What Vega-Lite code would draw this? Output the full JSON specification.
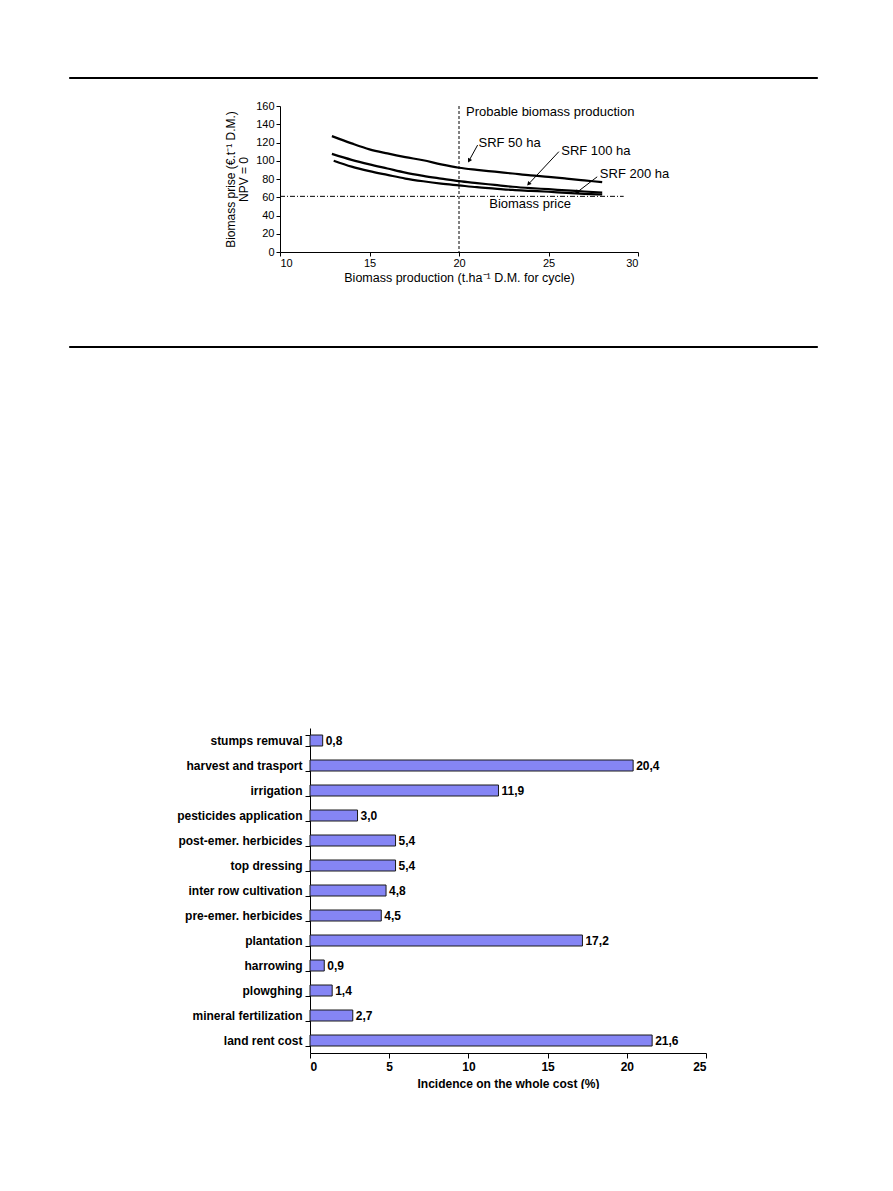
{
  "$schema": "https://vega.github.io/schema/vega-lite/v6.json",
  "background": "white",
  "padding": {"left": 68, "top": 76, "right": 0, "bottom": 0},
  "autosize": {"type": "pad"},
  "config": {
    "view": {"stroke": null},
    "font": "Liberation Sans",
    "locale": {"number": {"decimal": ",", "thousands": ".", "grouping": [3], "currency": ["", "€"]}},
    "axis": {"grid": false, "domainColor": "black", "tickColor": "black", "labelColor": "black", "titleColor": "black", "labelOverlap": false}
  },
  "spacing": 0,
  "vconcat": [
    {"width": 748, "height": 1, "data": {"values": []}, "mark": "text", "encoding": {}, "view": {"fill": "black", "stroke": "black", "strokeWidth": 1}},
    {"width": 1, "height": 21, "data": {"values": []}, "mark": "text", "encoding": {}},
    {
      "spacing": 0,
      "hconcat": [
        {"width": 155, "height": 1, "data": {"values": []}, "mark": "text", "encoding": {}},
        {
          "width": 358,
          "height": 146,
          "layer": [
            {
              "data": {"values": [
                {"series": "SRF 50 ha", "production": 12.9, "price": 127},
                {"series": "SRF 50 ha", "production": 14, "price": 119},
                {"series": "SRF 50 ha", "production": 15, "price": 112.5},
                {"series": "SRF 50 ha", "production": 16, "price": 108},
                {"series": "SRF 50 ha", "production": 17, "price": 104},
                {"series": "SRF 50 ha", "production": 18, "price": 100.5},
                {"series": "SRF 50 ha", "production": 19, "price": 96},
                {"series": "SRF 50 ha", "production": 20, "price": 92.3},
                {"series": "SRF 50 ha", "production": 21, "price": 90},
                {"series": "SRF 50 ha", "production": 22, "price": 88},
                {"series": "SRF 50 ha", "production": 23, "price": 86},
                {"series": "SRF 50 ha", "production": 24, "price": 84},
                {"series": "SRF 50 ha", "production": 25, "price": 82.4},
                {"series": "SRF 50 ha", "production": 26, "price": 80.5},
                {"series": "SRF 50 ha", "production": 27, "price": 78.5},
                {"series": "SRF 50 ha", "production": 28, "price": 76.5},
                {"series": "SRF 100 ha", "production": 12.9, "price": 107.5},
                {"series": "SRF 100 ha", "production": 14, "price": 101},
                {"series": "SRF 100 ha", "production": 15, "price": 96},
                {"series": "SRF 100 ha", "production": 16, "price": 91.5},
                {"series": "SRF 100 ha", "production": 17, "price": 87},
                {"series": "SRF 100 ha", "production": 18, "price": 83.5},
                {"series": "SRF 100 ha", "production": 19, "price": 80.5},
                {"series": "SRF 100 ha", "production": 20, "price": 77.6},
                {"series": "SRF 100 ha", "production": 21, "price": 75.5},
                {"series": "SRF 100 ha", "production": 22, "price": 73.5},
                {"series": "SRF 100 ha", "production": 23, "price": 71.5},
                {"series": "SRF 100 ha", "production": 24, "price": 70},
                {"series": "SRF 100 ha", "production": 25, "price": 68.8},
                {"series": "SRF 100 ha", "production": 26, "price": 67.5},
                {"series": "SRF 100 ha", "production": 27, "price": 66.3},
                {"series": "SRF 100 ha", "production": 28, "price": 65},
                {"series": "SRF 200 ha", "production": 13, "price": 100},
                {"series": "SRF 200 ha", "production": 14, "price": 93.5},
                {"series": "SRF 200 ha", "production": 15, "price": 88.6},
                {"series": "SRF 200 ha", "production": 16, "price": 84.5},
                {"series": "SRF 200 ha", "production": 17, "price": 80.5},
                {"series": "SRF 200 ha", "production": 18, "price": 77.5},
                {"series": "SRF 200 ha", "production": 19, "price": 75},
                {"series": "SRF 200 ha", "production": 20, "price": 73},
                {"series": "SRF 200 ha", "production": 21, "price": 71},
                {"series": "SRF 200 ha", "production": 22, "price": 69.5},
                {"series": "SRF 200 ha", "production": 23, "price": 68},
                {"series": "SRF 200 ha", "production": 24, "price": 67},
                {"series": "SRF 200 ha", "production": 25, "price": 66},
                {"series": "SRF 200 ha", "production": 26, "price": 64.8},
                {"series": "SRF 200 ha", "production": 27, "price": 63.8},
                {"series": "SRF 200 ha", "production": 28, "price": 63}
              ]},
              "mark": {"type": "line", "color": "black", "strokeWidth": 2.2, "interpolate": "monotone"},
              "encoding": {
                "x": {"field": "production", "type": "quantitative", "scale": {"domain": [10, 30], "nice": false, "zero": false},
                  "title": "Biomass production (t.ha⁻¹ D.M. for cycle)",
                  "axis": {"values": [10, 15, 20, 25, 30], "tickCount": 10, "labelOverlap": false, "tickSize": 4, "labelFontSize": 11, "labelPadding": 1, "titleFontSize": 12.5, "titleFontWeight": "normal", "titlePadding": 3}},
                "y": {"field": "price", "type": "quantitative", "scale": {"domain": [0, 160], "nice": false},
                  "title": ["Biomass prise (€.t⁻¹ D.M.)", "NPV = 0"],
                  "axis": {"values": [0, 20, 40, 60, 80, 100, 120, 140, 160], "tickCount": 20, "labelOverlap": false, "tickSize": 4, "labelFontSize": 11, "labelPadding": 2, "titleFontSize": 12, "titleFontWeight": "normal", "titlePadding": 5, "titleLineHeight": 13}},
                "detail": {"field": "series"}
              }
            },
            {
              "data": {"values": [{"production": 20}]},
              "mark": {"type": "rule", "color": "black", "strokeWidth": 1, "strokeDash": [3, 2]},
              "encoding": {"x": {"field": "production", "type": "quantitative", "title": "Biomass production (t.ha⁻¹ D.M. for cycle)"}}
            },
            {
              "data": {"values": [{"production": 10, "production2": 29.2, "price": 61}]},
              "mark": {"type": "rule", "color": "black", "strokeWidth": 1, "strokeDash": [5, 2, 1, 2]},
              "encoding": {
                "x": {"field": "production", "type": "quantitative", "title": "Biomass production (t.ha⁻¹ D.M. for cycle)"},
                "x2": {"field": "production2"},
                "y": {"field": "price", "type": "quantitative", "title": ["Biomass prise (€.t⁻¹ D.M.)", "NPV = 0"]}
              }
            },
            {
              "data": {"values": [
                {"production": 21.04, "price": 117.2, "production2": 20.6, "price2": 101.5},
                {"production": 25.58, "price": 110, "production2": 23.95, "price2": 75.8},
                {"production": 27.72, "price": 82.4, "production2": 26.65, "price2": 66.3}
              ]},
              "mark": {"type": "rule", "color": "black", "strokeWidth": 1},
              "encoding": {
                "x": {"field": "production", "type": "quantitative", "title": "Biomass production (t.ha⁻¹ D.M. for cycle)"},
                "x2": {"field": "production2"},
                "y": {"field": "price", "type": "quantitative", "title": ["Biomass prise (€.t⁻¹ D.M.)", "NPV = 0"]},
                "y2": {"field": "price2"}
              }
            },
            {
              "data": {"values": [
                {"production": 20.58, "price": 100.7, "heading": 209},
                {"production": 23.91, "price": 75.1, "heading": 223},
                {"production": 26.6, "price": 65.9, "heading": 233}
              ]},
              "mark": {"type": "point", "shape": "triangle", "filled": true, "color": "black", "size": 22, "opacity": 1},
              "encoding": {
                "x": {"field": "production", "type": "quantitative", "title": "Biomass production (t.ha⁻¹ D.M. for cycle)"},
                "y": {"field": "price", "type": "quantitative", "title": ["Biomass prise (€.t⁻¹ D.M.)", "NPV = 0"]},
                "angle": {"field": "heading", "type": "quantitative", "scale": null}
              }
            },
            {
              "data": {"values": [
                {"production": 20.39, "price": 153.8, "label": "Probable biomass production"},
                {"production": 21.09, "price": 119.7, "label": "SRF 50 ha"},
                {"production": 25.71, "price": 110.6, "label": "SRF 100 ha"},
                {"production": 27.87, "price": 85.3, "label": "SRF 200 ha"},
                {"production": 21.69, "price": 52.7, "label": "Biomass  price"}
              ]},
              "mark": {"type": "text", "align": "left", "baseline": "middle", "fontSize": 13, "color": "black"},
              "encoding": {
                "x": {"field": "production", "type": "quantitative", "title": "Biomass production (t.ha⁻¹ D.M. for cycle)"},
                "y": {"field": "price", "type": "quantitative", "title": ["Biomass prise (€.t⁻¹ D.M.)", "NPV = 0"]},
                "text": {"field": "label"}
              }
            }
          ]
        }
      ]
    },
    {"width": 1, "height": 61, "data": {"values": []}, "mark": "text", "encoding": {}},
    {"width": 748, "height": 1, "data": {"values": []}, "mark": "text", "encoding": {}, "view": {"fill": "black", "stroke": "black", "strokeWidth": 1}},
    {"width": 1, "height": 374, "data": {"values": []}, "mark": "text", "encoding": {}},
    {
      "spacing": 0,
      "hconcat": [
        {"width": 107, "height": 1, "data": {"values": []}, "mark": "text", "encoding": {}},
        {
          "width": 396,
          "height": 325,
          "data": {"values": [
            {"task": "stumps remuval", "share": 0.8},
            {"task": "harvest and trasport", "share": 20.4},
            {"task": "irrigation", "share": 11.9},
            {"task": "pesticides application", "share": 3.0},
            {"task": "post-emer. herbicides", "share": 5.4},
            {"task": "top dressing", "share": 5.4},
            {"task": "inter row cultivation", "share": 4.8},
            {"task": "pre-emer. herbicides", "share": 4.5},
            {"task": "plantation", "share": 17.2},
            {"task": "harrowing", "share": 0.9},
            {"task": "plowghing", "share": 1.4},
            {"task": "mineral fertilization", "share": 2.7},
            {"task": "land rent cost", "share": 21.6}
          ]},
          "encoding": {
            "y": {"field": "task", "type": "nominal", "sort": null,
              "scale": {"paddingInner": 0.56, "paddingOuter": 0.28},
              "axis": {"title": null, "tickBand": "extent", "tickSize": 5, "labelFontSize": 12, "labelFontWeight": "bold", "labelPadding": 3, "labelColor": "black"}},
            "x": {"field": "share", "type": "quantitative", "scale": {"domain": [0, 25], "nice": false},
              "title": "Incidence on the whole cost (%)",
              "axis": {"values": [0, 5, 10, 15, 20, 25], "tickCount": 10, "format": "d", "tickSize": 5, "labelFontSize": 12, "labelFontWeight": "bold", "labelPadding": 3, "titleFontSize": 12, "titleFontWeight": "bold", "titlePadding": 6}}
          },
          "layer": [
            {"mark": {"type": "bar", "fill": "#8585f5", "stroke": "#1a1a1a", "strokeWidth": 1}},
            {"mark": {"type": "text", "align": "left", "baseline": "middle", "dx": 3, "fontSize": 12, "fontWeight": "bold", "color": "black"},
             "encoding": {"text": {"field": "share", "type": "quantitative", "format": ".1f"}}}
          ]
        }
      ]
    }
  ]
}
